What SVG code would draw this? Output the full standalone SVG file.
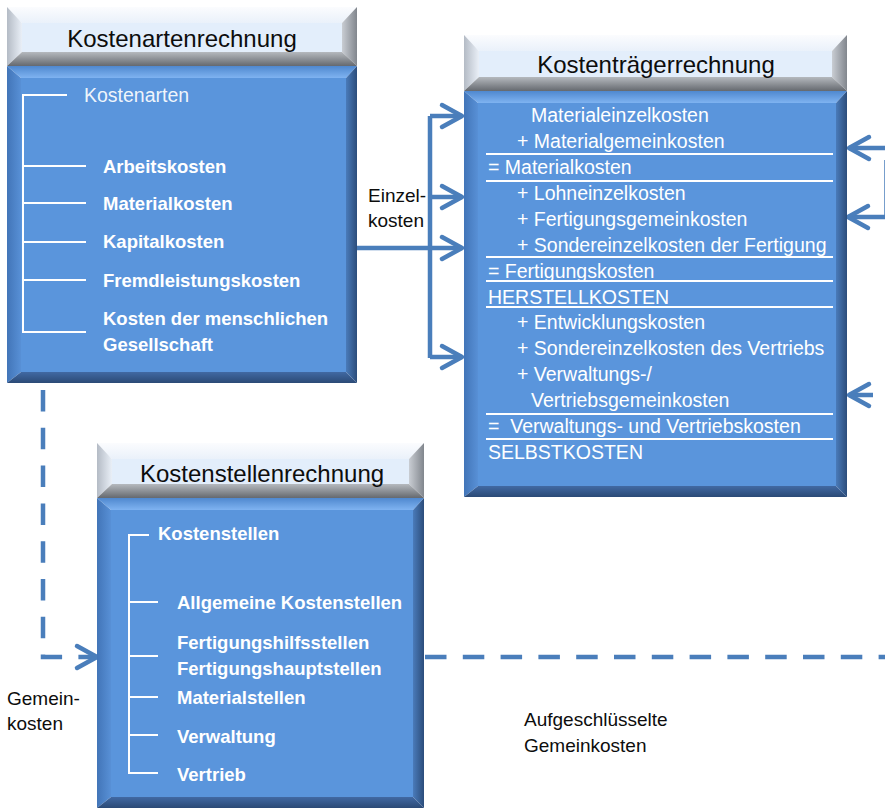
<svg xmlns="http://www.w3.org/2000/svg" width="885" height="809" viewBox="0 0 885 809">
<defs>
<linearGradient id="gHt" x1="0" y1="0" x2="0" y2="1"><stop offset="0" stop-color="#fbfcfe"/><stop offset="1" stop-color="#eaf1fa"/></linearGradient>
<linearGradient id="gHl" x1="0" y1="0" x2="1" y2="0"><stop offset="0" stop-color="#b4bbc5"/><stop offset="1" stop-color="#e9eff7"/></linearGradient>
<linearGradient id="gHr" x1="0" y1="0" x2="1" y2="0"><stop offset="0" stop-color="#c9cdd3"/><stop offset="1" stop-color="#81868d"/></linearGradient>
<linearGradient id="gHb" x1="0" y1="0" x2="0" y2="1"><stop offset="0" stop-color="#b5b9be"/><stop offset="1" stop-color="#65696f"/></linearGradient>
<linearGradient id="gBt" x1="0" y1="0" x2="0" y2="1"><stop offset="0" stop-color="#4f88cf"/><stop offset="1" stop-color="#7fb3f1"/></linearGradient>
<linearGradient id="gBl" x1="0" y1="0" x2="1" y2="0"><stop offset="0" stop-color="#4275b8"/><stop offset="1" stop-color="#5890d6"/></linearGradient>
<linearGradient id="gBr" x1="0" y1="0" x2="1" y2="0"><stop offset="0" stop-color="#4a7bba"/><stop offset="1" stop-color="#2c4d7b"/></linearGradient>
<linearGradient id="gBb" x1="0" y1="0" x2="0" y2="1"><stop offset="0" stop-color="#4169a3"/><stop offset="1" stop-color="#2b4a76"/></linearGradient>
<marker id="chev" viewBox="0 0 26 28" refX="23" refY="14" markerWidth="26" markerHeight="28" markerUnits="userSpaceOnUse" orient="auto" overflow="visible">
<path d="M3,3 L23,14 L3,25" fill="none" stroke="#4a7ebb" stroke-width="4.5" stroke-linecap="round" stroke-linejoin="round" stroke-dasharray="none"/>
</marker>
<style>
.ht{fill:url(#gHt)}.hl{fill:url(#gHl)}.hr{fill:url(#gHr)}.hb{fill:url(#gHb)}.hf{fill:#e3eefb}
.bt{fill:url(#gBt)}.bl{fill:url(#gBl)}.br{fill:url(#gBr)}.bb{fill:url(#gBb)}.bf{fill:#5a95dc}
.title{font-family:"Liberation Sans",Arial,sans-serif;font-size:24px;fill:#0d0d0d;text-anchor:middle}
.tree{fill:none;stroke:#ffffff;stroke-width:2}
.sep{stroke:#ffffff;stroke-width:2}
.bw{font-family:"Liberation Sans",Arial,sans-serif;font-size:18.5px;font-weight:bold;fill:#ffffff}
.rw{font-family:"Liberation Sans",Arial,sans-serif;font-size:19.5px;fill:#ffffff}
.lbl{font-family:"Liberation Sans",Arial,sans-serif;font-size:19px;fill:#0d0d0d}
.con{fill:none;stroke:#4a7ebb;stroke-width:4.5}
.dash{stroke-dasharray:21.5 16.3}
.arr{marker-end:url(#chev)}
</style>
</defs>

<g id="connectors">
<path class="con" d="M430,116 V358"/>
<path class="con arr" d="M430,116 H462"/>
<path class="con arr" d="M430,197 H462"/>
<path class="con arr" d="M357,248 H462"/>
<path class="con arr" d="M430,357 H462"/>
<path class="con dash arr" d="M43,390 V657 H97"/>
<path class="con dash" d="M425,657 H885"/>
<path class="con arr" d="M885,148 H849"/>
<path class="con" d="M886.5,160 V217"/>
<path class="con arr" d="M886,217 H848"/>
<path class="con arr" d="M873,395 H849"/>
</g>

<g id="kostenartenrechnung">
<polygon class="ht" points="7,7 357,7 342,23 22,23"/>
<polygon class="hl" points="7,7 22,23 22,52 7,66"/>
<polygon class="hr" points="357,7 357,66 342,52 342,23"/>
<polygon class="hb" points="7,66 357,66 342,52 22,52"/>
<rect class="hf" x="22" y="23" width="320" height="29"/>
<text class="title" x="182" y="47">Kostenartenrechnung</text>
<polygon class="bt" points="7,66 357,66 346,78 21,78"/>
<polygon class="bl" points="7,66 21,78 21,372 7,383"/>
<polygon class="br" points="357,66 357,383 346,372 346,78"/>
<polygon class="bb" points="7,383 357,383 346,372 21,372"/>
<rect class="bf" x="21" y="78" width="325" height="294"/>
<path class="tree" d="M67,95 H23 V332 H86 M23,166 H86 M23,203 H86 M23,242 H86 M23,280 H86"/>
<text class="rw" x="84" y="102" fill-opacity="0.92">Kostenarten</text>
<text class="bw" x="103" y="173">Arbeitskosten</text>
<text class="bw" x="103" y="210">Materialkosten</text>
<text class="bw" x="103" y="248">Kapitalkosten</text>
<text class="bw" x="103" y="287">Fremdleistungskosten</text>
<text class="bw" x="103" y="325">Kosten der menschlichen</text>
<text class="bw" x="103" y="351">Gesellschaft</text>
</g>

<g id="kostentraegerrechnung">
<polygon class="ht" points="464,35 847,35 832,51 479,51"/>
<polygon class="hl" points="464,35 479,51 479,77 464,91"/>
<polygon class="hr" points="847,35 847,91 832,77 832,51"/>
<polygon class="hb" points="464,91 847,91 832,77 479,77"/>
<rect class="hf" x="479" y="51" width="353" height="26"/>
<text class="title" x="656" y="73">Kostenträgerrechnung</text>
<polygon class="bt" points="464,91 847,91 836,103 478,103"/>
<polygon class="bl" points="464,91 478,103 478,486 464,497"/>
<polygon class="br" points="847,91 847,497 836,486 836,103"/>
<polygon class="bb" points="464,497 847,497 836,486 478,486"/>
<rect class="bf" x="478" y="103" width="358" height="383"/>
<path class="sep" d="M486,154 H833 M486,181 H833 M486,257 H833 M486,281 H833 M486,307 H833 M486,414 H833 M486,439 H833"/>
<text class="rw" x="531" y="122">Materialeinzelkosten</text>
<text class="rw" x="517" y="148">+ Materialgemeinkosten</text>
<text class="rw" x="488" y="174">= Materialkosten</text>
<text class="rw" x="517" y="200">+ Lohneinzelkosten</text>
<text class="rw" x="517" y="226">+ Fertigungsgemeinkosten</text>
<text class="rw" x="517" y="252">+ Sondereinzelkosten der Fertigung</text>
<text class="rw" x="488" y="278">= Fertigungskosten</text>
<text class="rw" x="488" y="304">HERSTELLKOSTEN</text>
<text class="rw" x="517" y="329">+ Entwicklungskosten</text>
<text class="rw" x="517" y="355">+ Sondereinzelkosten des Vertriebs</text>
<text class="rw" x="517" y="381">+ Verwaltungs-/</text>
<text class="rw" x="531" y="407">Vertriebsgemeinkosten</text>
<text class="rw" x="488" y="433" xml:space="preserve">=  Verwaltungs- und Vertriebskosten</text>
<text class="rw" x="488" y="459">SELBSTKOSTEN</text>
</g>

<g id="kostenstellenrechnung">
<polygon class="ht" points="97,443 424,443 409,459 112,459"/>
<polygon class="hl" points="97,443 112,459 112,484 97,498"/>
<polygon class="hr" points="424,443 424,498 409,484 409,459"/>
<polygon class="hb" points="97,498 424,498 409,484 112,484"/>
<rect class="hf" x="112" y="459" width="297" height="25"/>
<text class="title" x="262" y="482">Kostenstellenrechnung</text>
<polygon class="bt" points="97,498 424,498 413,510 111,510"/>
<polygon class="bl" points="97,498 111,510 111,797 97,808"/>
<polygon class="br" points="424,498 424,808 413,797 413,510"/>
<polygon class="bb" points="97,808 424,808 413,797 111,797"/>
<rect class="bf" x="111" y="510" width="302" height="287"/>
<path class="tree" d="M149,535 H129 V773 H158 M129,602 H158 M129,656 H158 M129,697 H158 M129,735 H158"/>
<text class="bw" x="158" y="540">Kostenstellen</text>
<text class="bw" x="177" y="609">Allgemeine Kostenstellen</text>
<text class="bw" x="177" y="649">Fertigungshilfsstellen</text>
<text class="bw" x="177" y="675">Fertigungshauptstellen</text>
<text class="bw" x="177" y="704">Materialstellen</text>
<text class="bw" x="177" y="743">Verwaltung</text>
<text class="bw" x="177" y="781">Vertrieb</text>
</g>

<g id="labels">
<text class="lbl" x="368" y="202">Einzel-</text>
<text class="lbl" x="368" y="227">kosten</text>
<text class="lbl" x="7" y="705">Gemein-</text>
<text class="lbl" x="7" y="730">kosten</text>
<text class="lbl" x="524" y="726">Aufgeschlüsselte</text>
<text class="lbl" x="524" y="752">Gemeinkosten</text>
</g>
</svg>
